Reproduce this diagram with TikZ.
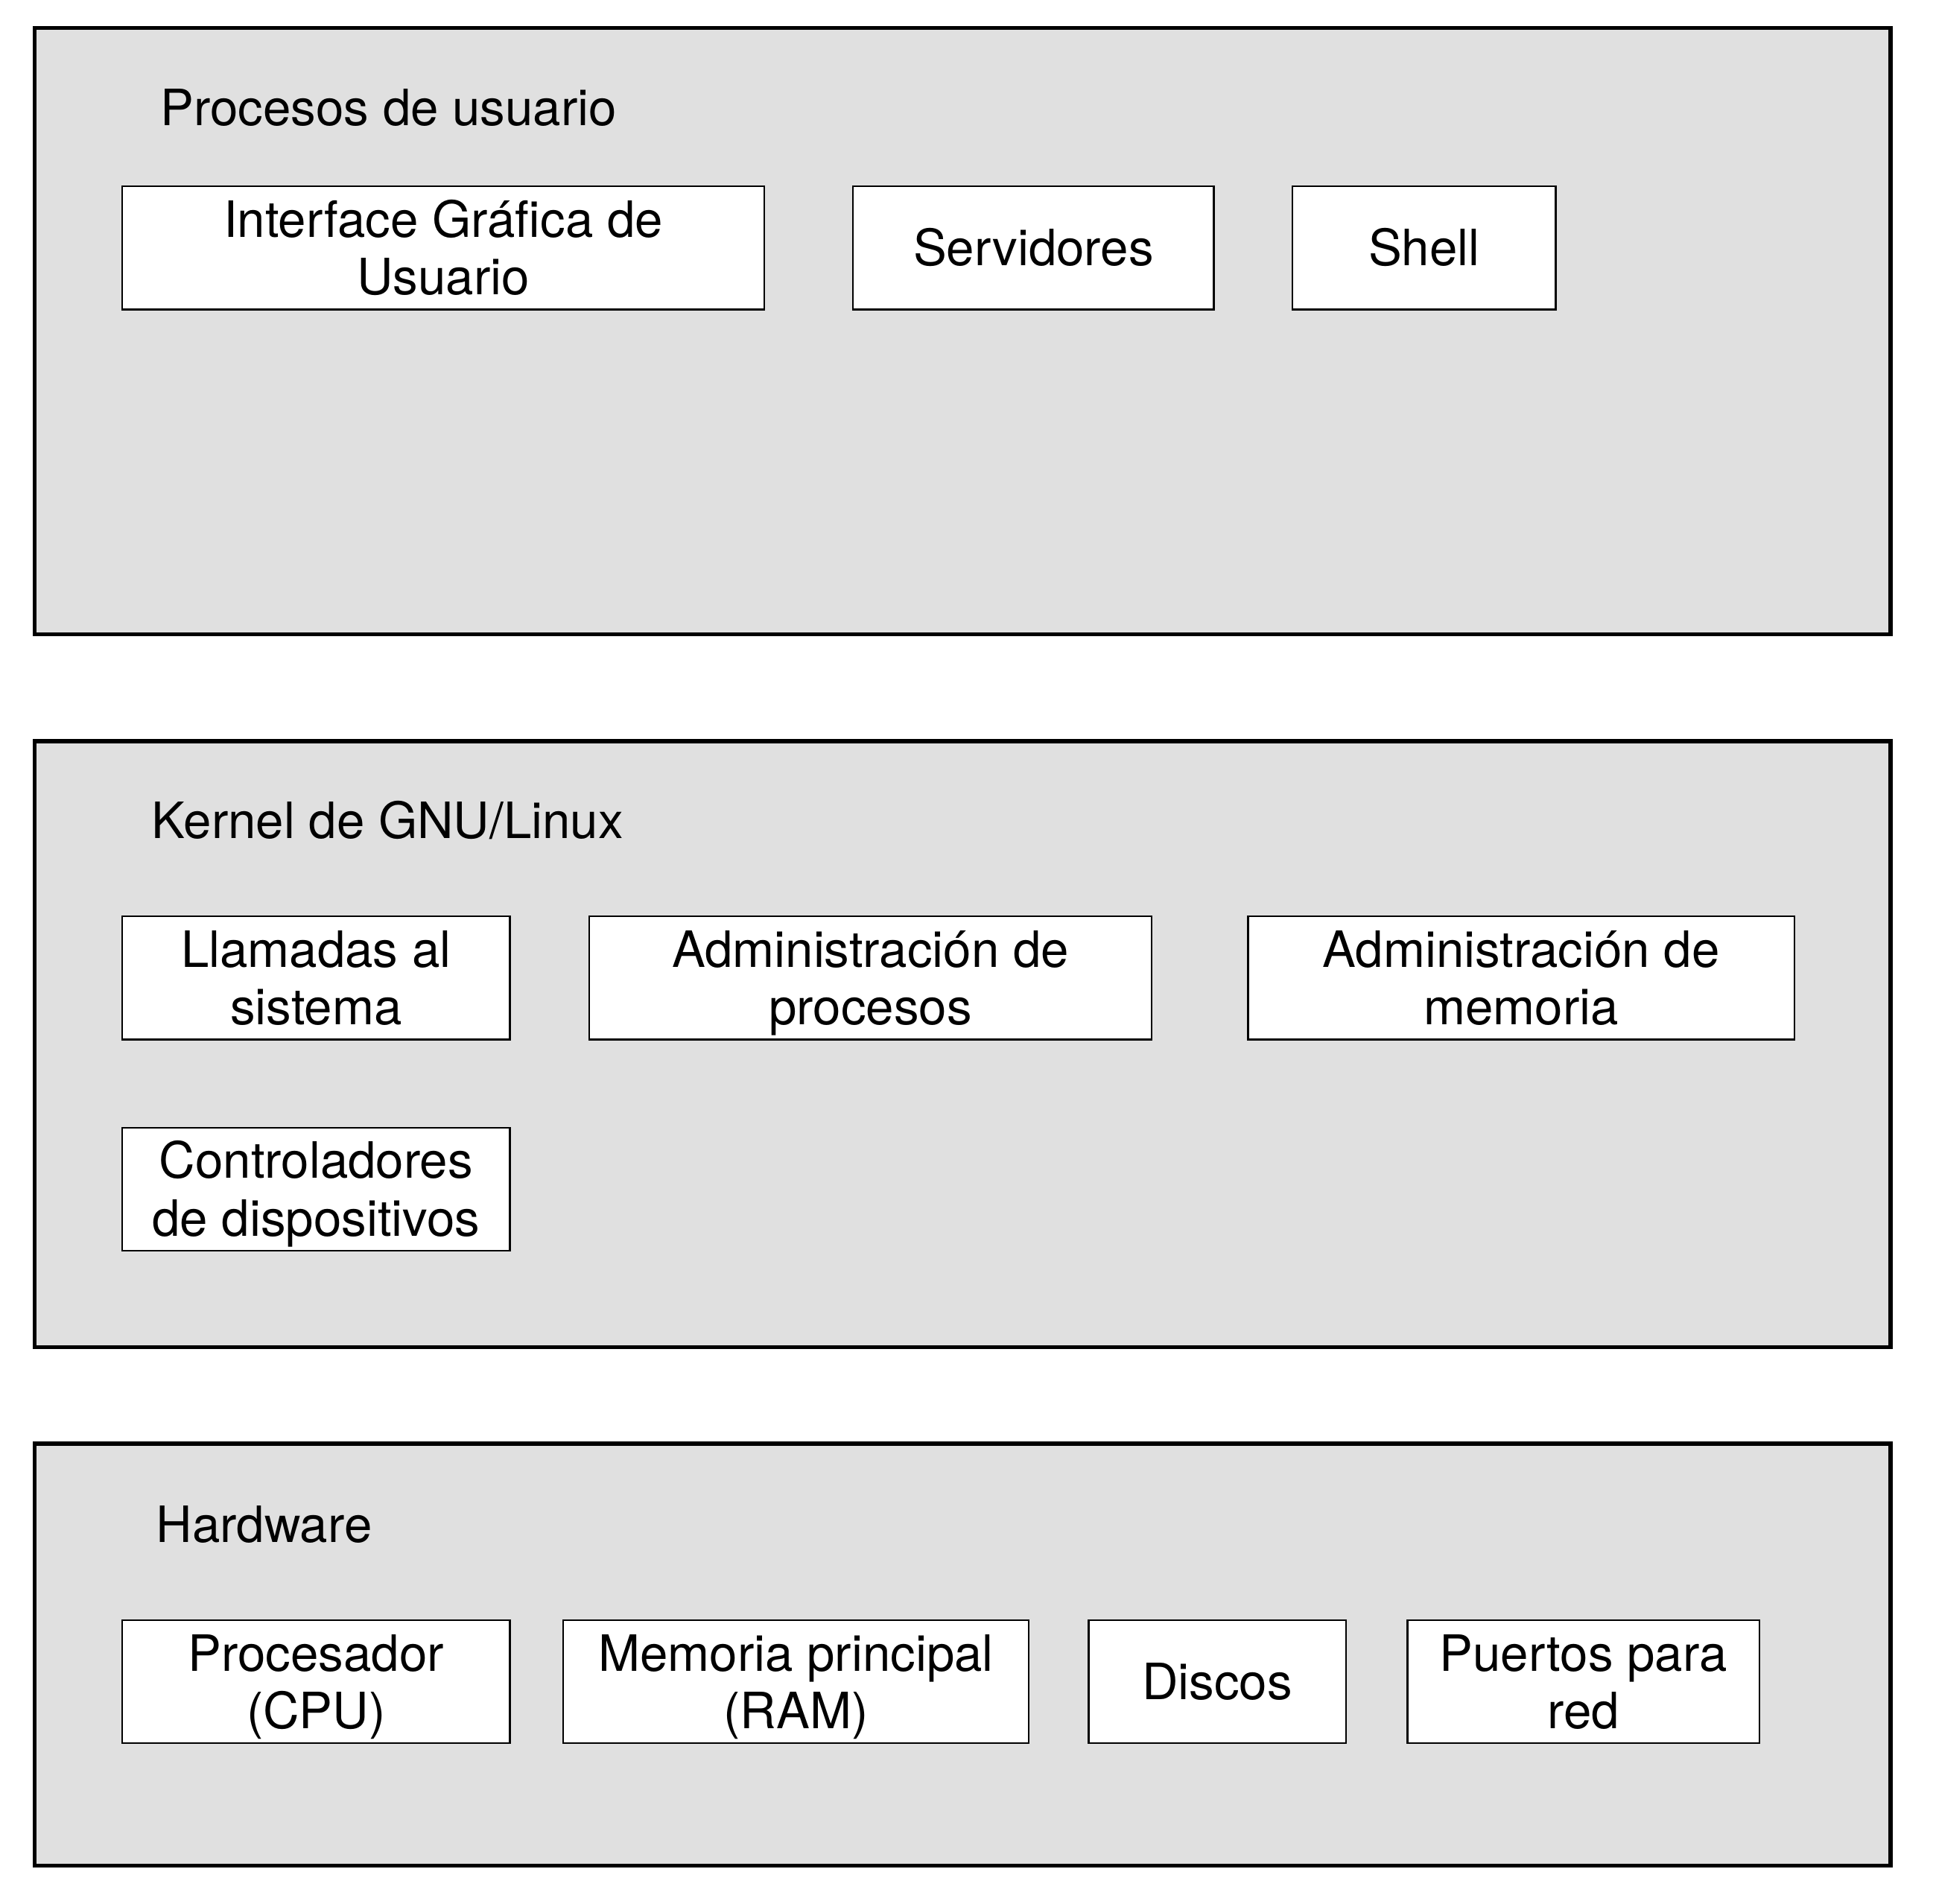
\documentclass[tikz,border=0pt]{standalone}
\usepackage{fontspec}
\setmainfont{TeX Gyre Heros}
\begin{document}
\begin{tikzpicture}[x=0.24872pt,y=-0.24872pt,
  layer/.style={draw=black,line width=1.3pt,fill=layergray},
  ibox/.style={draw=black,line width=0.6pt,fill=white,inner sep=0pt,align=center,
    minimum height=41.3pt,font=\fontsize{16.8}{19.3}\selectfont,text depth=0pt},
  onel/.style={ibox,text height=12.1pt},
  twol/.style={ibox,text height=31.4pt},
  ttl/.style={anchor=base west,inner sep=0pt,font=\fontsize{16.8}{19.3}\selectfont}]
\definecolor{layergray}{HTML}{E0E0E0}
\useasboundingbox (0,0) rectangle (2612.3,2569.1);
% layers
\draw[layer] (47,38) rectangle (2551,856);
\draw[layer] (47,1000) rectangle (2551,1818);
\draw[layer] (47,1948) rectangle (2551,2517);
% titles
\node[ttl] (t1) at (216,169) {Procesos de usuario};
\node[ttl] (t2) at (204,1131) {Kernel de GNU/Linux};
\node[ttl] (t3) at (210,2081) {Hardware};
% user processes
\node[twol,minimum width=215.39pt] (gui) at (598,334.5) {Interface Gráfica de\\Usuario};
\node[onel,minimum width=121.13pt] (srv) at (1394.5,334.5) {Servidores};
\node[onel,minimum width=88.30pt] (sh) at (1921.5,334.5) {Shell};
% kernel
\node[twol,minimum width=130.08pt] (sys) at (426.5,1319.5) {Llamadas al\\sistema};
\node[twol,minimum width=188.78pt] (proc) at (1174.5,1319.5) {Administración de\\procesos};
\node[twol,minimum width=183.31pt] (mem) at (2052.5,1319.5) {Administración de\\memoria};
\node[twol,minimum width=130.08pt] (drv) at (426.5,1604.5) {Controladores\\de dispositivos};
% hardware
\node[twol,minimum width=130.08pt] (cpu) at (426.5,2269) {Procesador\\(CPU)};
\node[twol,minimum width=156.2pt] (ram) at (1074,2269) {Memoria principal\\(RAM)};
\node[onel,minimum width=86.31pt] (disk) at (1642.5,2269) {Discos};
\node[twol,minimum width=118.14pt] (net) at (2136.5,2269) {Puertos para\\red};
\end{tikzpicture}
\end{document}
